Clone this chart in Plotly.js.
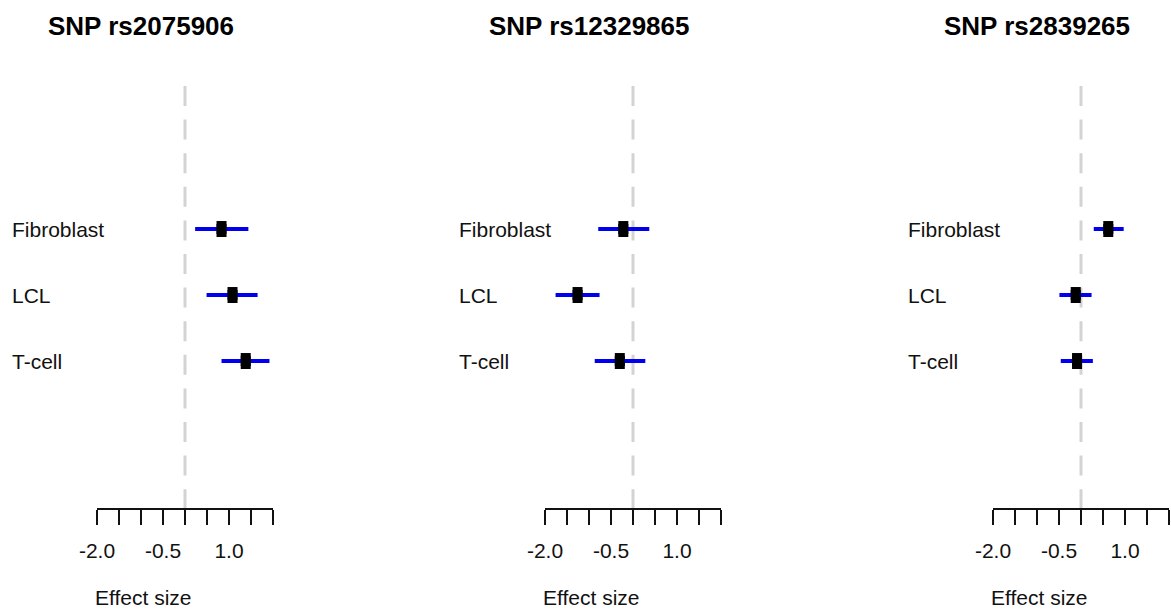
<!DOCTYPE html>
<html>
<head>
<meta charset="utf-8">
<script src="https://cdn.plot.ly/plotly-3.0.1.min.js"></script>
<style>html,body{margin:0;padding:0;background:#fff;}#chart{width:1171px;height:611px;}</style>
</head>
<body>
<div id="chart"></div>
<script>
// ---- data ----
const categories = ['Fibroblast', 'LCL', 'T-cell'];
const snpTitles = ['SNP rs2075906', 'SNP rs12329865', 'SNP rs2839265'];

const est1 = [0.83, 1.08, 1.38];
const lo1  = [0.23, 0.49, 0.83];
const hi1  = [1.44, 1.65, 1.92];

const est2 = [-0.22, -1.26, -0.30];
const lo2  = [-0.79, -1.76, -0.87];
const hi2  = [0.37, -0.76, 0.28];

const est3 = [0.62, -0.12, -0.09];
const lo3  = [0.29, -0.49, -0.46];
const hi3  = [0.97, 0.24, 0.27];

const tickValues = [-2.0, -1.5, -1.0, -0.5, 0.0, 0.5, 1.0, 1.5, 2.0];
const tickLabels = ['-2.0', '', '', '-0.5', '', '', '1.0', '', ''];
const xTitle = 'Effect size';
const refLine = 0;

// ---- build ----
const W = 1171, H = 611;
const FONT = 'Liberation Sans, Arial, Helvetica, sans-serif';
const panels = [
  {est: est1, lo: lo1, hi: hi1, ax0: 97, lab: 10},
  {est: est2, lo: lo2, hi: hi2, ax0: 545, lab: 457},
  {est: est3, lo: lo3, hi: hi3, ax0: 993, lab: 906}
];
const axW = 176;
const yDom = [(H - 508) / H, (H - 86) / H];
// row positions: first category at top
const rowPos = categories.map((c, k) => categories.length - 1 - k);

const traces = [];
const layout = {
  width: W, height: H,
  margin: {l: 0, r: 0, t: 0, b: 0},
  paper_bgcolor: '#ffffff', plot_bgcolor: '#ffffff',
  showlegend: false,
  font: {family: FONT, size: 21, color: '#000'},
  annotations: [], shapes: []
};

panels.forEach((p, i) => {
  const sfx = i === 0 ? '' : String(i + 1);
  const xa = 'x' + sfx, ya = 'y' + sfx;
  traces.push({
    type: 'scatter', mode: 'markers',
    x: p.est, y: rowPos, text: categories,
    xaxis: xa, yaxis: ya,
    marker: {symbol: 'square', size: 10, color: '#000', line: {width: 0}},
    error_x: {type: 'data', symmetric: false,
      array: p.hi.map((h, k) => h - p.est[k]),
      arrayminus: p.est.map((e, k) => e - p.lo[k]),
      color: '#0000ee', thickness: 4, width: 0},
    error_y: {type: 'constant', value: 0.121, color: '#000', thickness: 10, width: 0},
    hoverinfo: 'skip'
  });
  layout['xaxis' + sfx] = {
    domain: [p.ax0 / W, (p.ax0 + axW) / W],
    anchor: ya,
    range: [-2, 2],
    tickmode: 'array', tickvals: tickValues, ticktext: tickLabels,
    ticks: 'outside', ticklen: 15, tickwidth: 2, tickcolor: '#111',
    showline: true, linecolor: '#111', linewidth: 2,
    showgrid: false, zeroline: false,
    tickfont: {family: FONT, size: 21, color: '#111'},
    ticklabelstandoff: 8,
    fixedrange: true
  };
  layout['yaxis' + sfx] = {
    domain: yDom, anchor: xa,
    range: [-2.227, 4.167],
    visible: false, showgrid: false, zeroline: false, fixedrange: true
  };
  layout.shapes.push({
    type: 'line', layer: 'below', xref: xa, yref: ya + ' domain',
    x0: refLine, x1: refLine, y0: 1, y1: 0,
    line: {color: '#d3d3d3', width: 3, dash: '20px,13.6px'}
  });
  const center = (p.ax0 + axW / 2 - 44) / W;
  layout.annotations.push({
    xref: 'paper', yref: 'paper', x: center, y: 1 - 26 / H,
    xanchor: 'center', yanchor: 'middle', showarrow: false,
    text: '<b>' + snpTitles[i] + '</b>',
    font: {family: FONT, size: 26, color: '#000'}
  });
  layout.annotations.push({
    xref: 'paper', yref: 'paper', x: (p.ax0 + axW / 2 - 42) / W, y: 0,
    xanchor: 'center', yanchor: 'bottom', showarrow: false,
    text: xTitle, font: {family: FONT, size: 21, color: '#111'}
  });
  categories.forEach((c, k) => {
    layout.annotations.push({
      xref: 'paper', yref: ya, x: p.lab / W, y: rowPos[k],
      xanchor: 'left', yanchor: 'middle', showarrow: false,
      text: c, font: {family: FONT, size: 21, color: '#111'}
    });
  });
});

Plotly.newPlot('chart', traces, layout, {displayModeBar: false, staticPlot: true});
</script>
</body>
</html>
